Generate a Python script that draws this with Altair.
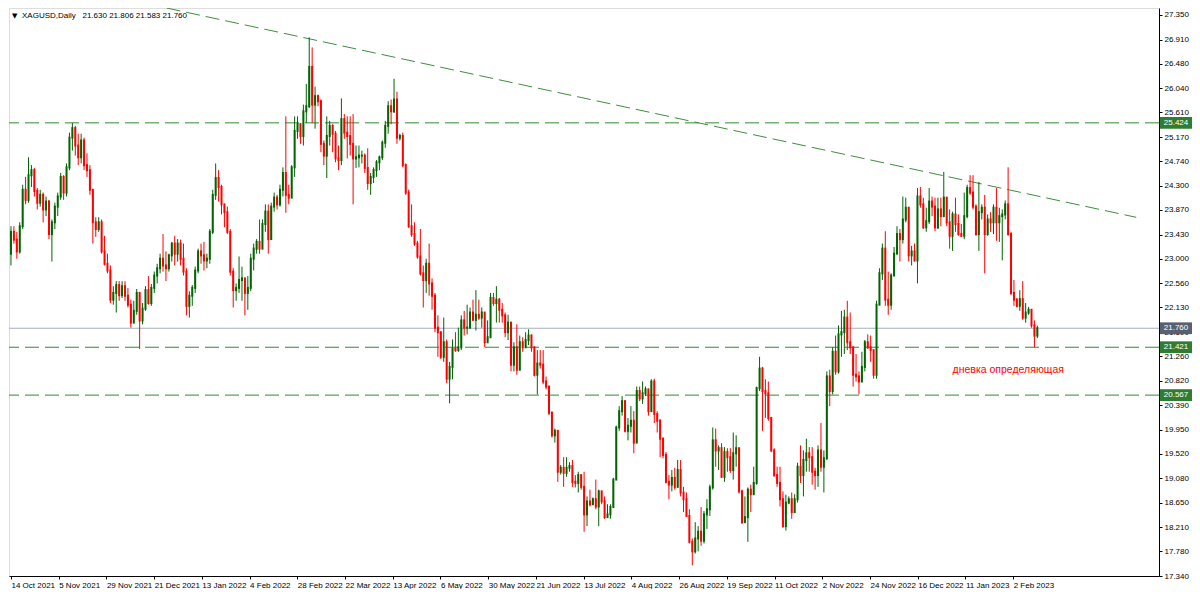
import json
import altair as alt
import pandas as pd

# ---------------- data ----------------
first_open = 23.09
closes = [
    23.48, 23.34, 23.13, 23.58, 24.23, 24.05, 24.49, 24.58, 24.21, 24.00,
    24.14, 23.88, 24.02, 23.44, 23.65, 23.93, 24.11, 24.46, 24.18, 24.63,
    25.16, 25.33, 25.02, 24.81, 25.11, 24.67, 24.58, 24.23, 23.65, 23.53,
    23.65, 23.13, 22.91, 22.79, 22.27, 22.39, 22.53, 22.35, 22.51, 22.34,
    22.18, 21.86, 22.07, 22.39, 21.90, 22.11, 22.44, 22.21, 22.48, 22.70,
    22.83, 23.00, 22.88, 22.83, 23.06, 23.27, 23.09, 23.27, 23.00, 22.77,
    22.16, 22.34, 22.48, 22.79, 23.13, 23.06, 22.97, 23.00, 23.48, 24.14,
    24.44, 24.28, 23.97, 23.83, 23.48, 22.77, 22.44, 22.48, 22.62, 22.65,
    22.39, 22.48, 23.00, 23.18, 23.30, 23.18, 23.62, 23.84, 23.35, 23.93,
    24.09, 23.97, 24.23, 24.53, 24.14, 24.09, 24.63, 25.28, 25.40, 25.19,
    25.63, 25.72, 26.42, 25.75, 25.90, 25.81, 25.05, 24.84, 25.19, 25.37,
    25.23, 24.79, 24.76, 25.49, 25.25, 25.19, 25.05, 24.79, 24.81, 24.84,
    24.84, 24.62, 24.35, 24.46, 24.58, 24.72, 24.81, 25.07, 25.37, 25.72,
    25.63, 25.84, 25.16, 25.19, 24.67, 24.18, 23.58, 23.44, 23.27, 23.04,
    22.74, 22.62, 22.91, 22.56, 22.34, 21.77, 21.69, 21.25, 21.51, 20.86,
    21.07, 21.39, 21.37, 21.42, 21.90, 21.77, 21.77, 22.04, 21.91, 22.00,
    21.95, 22.04, 21.51, 21.60, 22.30, 22.21, 22.27, 22.09, 21.99, 21.69,
    21.86, 21.11, 21.42, 21.02, 21.51, 21.42, 21.55, 21.63, 21.42, 20.93,
    21.13, 21.11, 20.81, 20.72, 20.25, 19.85, 19.93, 19.20, 19.27, 19.18,
    19.27, 19.30, 19.02, 19.00, 19.14, 18.93, 18.44, 18.67, 18.62, 18.71,
    18.58, 18.85, 18.67, 18.39, 18.44, 18.57, 19.06, 19.99, 20.28, 20.46,
    19.93, 20.02, 20.11, 19.72, 20.64, 20.51, 20.60, 20.67, 20.28, 20.81,
    20.23, 20.11, 19.79, 19.50, 19.02, 18.97, 19.09, 18.93, 19.23, 18.83,
    18.71, 18.41, 17.95, 17.78, 18.01, 18.13, 17.97, 18.44, 18.53, 18.92,
    19.76, 19.58, 19.62, 19.11, 19.55, 19.46, 19.23, 19.53, 19.62, 18.85,
    18.30, 18.39, 18.88, 18.80, 19.00, 20.69, 21.04, 20.64, 20.60, 20.16,
    19.58, 19.14, 19.00, 18.71, 18.23, 18.65, 18.71, 18.48, 18.71, 19.29,
    19.14, 19.41, 19.53, 19.46, 19.20, 19.14, 19.58, 19.29, 19.44, 20.90,
    20.64, 21.34, 20.99, 21.65, 21.69, 21.95, 21.51, 21.42, 20.93, 20.90,
    20.81, 21.07, 21.51, 21.42, 21.37, 20.93, 22.18, 22.74, 23.18, 22.27,
    22.18, 22.70, 23.09, 23.44, 23.35, 23.70, 23.91, 23.06, 23.13, 22.97,
    24.11, 23.97, 23.56, 23.67, 24.02, 23.93, 23.56, 23.88, 23.76, 24.09,
    23.65, 23.41, 23.79, 23.62, 23.44, 23.41, 23.76, 24.26, 24.18, 23.93,
    23.44, 23.83, 23.91, 23.44, 23.70, 23.65, 23.91, 23.65, 23.76, 23.79,
    23.97, 23.44, 22.39, 22.27, 22.16, 22.28, 21.95, 22.04, 22.09, 21.81,
    21.63, 21.76,
]
highs = [
    23.58, 23.58, 23.48, 23.65, 24.32, 24.46, 24.81, 24.67, 24.62, 24.26,
    24.23, 24.18, 24.11, 24.05, 23.70, 24.00, 24.18, 24.53, 24.49, 24.70,
    25.25, 25.42, 25.37, 25.23, 25.23, 25.16, 24.88, 24.67, 24.23, 23.74,
    23.74, 23.70, 23.41, 23.09, 22.88, 22.51, 22.60, 22.60, 22.60, 22.60,
    22.48, 22.27, 22.25, 22.46, 22.35, 22.21, 22.51, 22.69, 22.55, 22.77,
    22.91, 23.09, 23.44, 23.13, 23.09, 23.30, 23.41, 23.35, 23.34, 23.27,
    22.83, 22.42, 22.53, 22.86, 23.18, 23.27, 23.30, 23.09, 23.53, 24.23,
    24.70, 24.58, 24.32, 23.97, 23.93, 23.53, 22.83, 22.56, 23.04, 22.86,
    22.65, 22.69, 23.09, 23.27, 23.35, 23.70, 23.70, 23.97, 23.97, 24.00,
    24.18, 24.14, 24.32, 24.63, 25.54, 24.32, 24.67, 25.54, 25.54, 25.42,
    25.75, 26.12, 26.95, 26.77, 26.07, 25.93, 25.84, 25.11, 25.54, 25.46,
    25.40, 25.28, 25.02, 25.86, 25.58, 25.54, 25.54, 25.58, 25.02, 25.02,
    24.93, 24.88, 24.97, 24.53, 24.63, 24.76, 24.84, 25.11, 25.46, 25.81,
    25.84, 26.21, 25.98, 25.23, 25.25, 24.70, 24.23, 23.97, 23.65, 23.32,
    23.53, 22.88, 23.00, 23.27, 22.65, 22.39, 21.99, 21.69, 21.95, 21.56,
    21.16, 21.56, 21.69, 21.77, 21.99, 22.07, 22.18, 22.13, 22.27, 22.44,
    22.27, 22.13, 22.04, 21.90, 22.39, 22.39, 22.51, 22.30, 22.21, 22.04,
    22.00, 21.86, 21.51, 21.83, 21.63, 21.60, 21.69, 21.74, 21.65, 21.42,
    21.37, 21.37, 21.37, 20.90, 20.72, 20.28, 19.97, 19.93, 19.32, 19.46,
    19.46, 19.37, 19.41, 19.14, 19.20, 19.06, 19.20, 18.76, 18.88, 18.74,
    19.06, 18.88, 18.79, 18.76, 18.62, 18.62, 19.09, 20.02, 20.37, 20.55,
    20.46, 20.16, 20.37, 20.28, 20.72, 20.72, 20.81, 20.72, 20.58, 20.85,
    20.86, 20.28, 20.14, 19.81, 19.55, 19.14, 19.23, 19.27, 19.41, 19.41,
    18.93, 18.83, 18.53, 18.01, 18.30, 18.23, 18.57, 18.50, 18.71, 18.97,
    19.99, 19.97, 19.67, 19.71, 19.64, 19.62, 19.62, 19.90, 19.85, 19.62,
    18.88, 18.76, 18.92, 18.97, 19.29, 20.72, 21.25, 21.07, 20.85, 20.81,
    20.16, 19.62, 19.29, 19.29, 18.85, 18.79, 18.76, 18.83, 18.80, 19.36,
    19.67, 19.58, 19.79, 19.64, 19.64, 19.27, 19.67, 20.07, 19.58, 20.99,
    21.02, 21.42, 21.63, 21.81, 22.07, 22.09, 22.25, 22.04, 21.42, 21.30,
    20.99, 21.34, 21.55, 21.65, 21.63, 21.25, 22.25, 22.83, 23.27, 23.49,
    22.77, 22.74, 23.21, 23.58, 23.53, 24.11, 24.09, 23.91, 23.23, 23.27,
    24.26, 24.28, 24.09, 23.91, 24.26, 24.11, 24.09, 24.09, 24.09, 24.55,
    24.09, 23.88, 23.84, 24.09, 23.79, 23.62, 24.18, 24.32, 24.49, 24.49,
    23.97, 24.37, 23.97, 24.14, 23.79, 23.83, 23.97, 24.26, 23.91, 23.88,
    24.04, 24.63, 23.48, 22.62, 22.30, 22.44, 22.60, 22.21, 22.14, 22.07,
    21.90, 21.806,
]
lows = [
    22.88, 23.27, 23.00, 23.09, 23.53, 23.97, 24.00, 24.28, 24.11, 23.88,
    23.93, 23.65, 23.76, 23.35, 22.95, 23.53, 23.76, 24.05, 24.05, 24.11,
    24.58, 24.93, 24.84, 24.67, 24.70, 24.58, 24.46, 24.14, 23.27, 23.39,
    23.48, 23.09, 22.88, 22.74, 22.21, 22.18, 22.04, 22.25, 22.30, 22.25,
    22.13, 21.77, 21.86, 22.00, 21.39, 21.83, 22.07, 22.18, 22.16, 22.39,
    22.56, 22.74, 22.77, 22.60, 22.77, 22.95, 22.88, 22.95, 22.88, 22.70,
    21.99, 21.95, 22.16, 22.39, 22.74, 22.91, 22.79, 22.83, 22.91, 23.44,
    24.05, 24.02, 23.79, 23.56, 23.44, 22.70, 22.13, 22.25, 22.39, 22.25,
    21.99, 22.09, 22.42, 22.79, 23.09, 23.09, 23.18, 23.48, 23.09, 23.76,
    23.84, 23.88, 23.93, 24.11, 23.82, 23.97, 24.26, 24.46, 25.14, 25.05,
    25.02, 25.42, 25.69, 25.42, 25.32, 25.72, 24.90, 24.67, 24.44, 25.02,
    24.90, 24.72, 24.58, 24.67, 25.14, 24.79, 24.84, 23.97, 24.62, 24.63,
    24.70, 24.53, 24.23, 24.14, 24.35, 24.46, 24.58, 24.76, 24.98, 25.23,
    25.40, 25.60, 25.05, 25.11, 24.63, 24.14, 23.55, 23.39, 23.23, 23.00,
    22.70, 22.13, 22.39, 22.34, 22.09, 21.69, 21.25, 21.21, 21.16, 20.78,
    20.42, 20.85, 21.34, 21.34, 21.37, 21.63, 21.65, 21.77, 21.90, 21.72,
    21.91, 21.77, 21.42, 21.55, 21.77, 22.16, 21.86, 21.86, 21.86, 21.60,
    21.55, 20.99, 20.99, 20.93, 21.02, 21.34, 21.42, 21.46, 21.34, 20.90,
    20.58, 21.04, 20.76, 20.67, 20.21, 19.81, 19.72, 19.02, 19.15, 18.93,
    19.11, 19.20, 18.93, 18.92, 18.83, 18.88, 18.13, 18.23, 18.58, 18.65,
    18.53, 18.23, 18.62, 18.36, 18.39, 18.36, 18.57, 19.06, 19.93, 20.20,
    19.90, 19.76, 19.90, 19.53, 19.72, 20.46, 20.41, 20.55, 20.20, 20.28,
    20.07, 19.90, 19.46, 19.44, 18.99, 18.71, 18.85, 18.88, 19.06, 18.76,
    18.48, 18.41, 17.92, 17.53, 17.74, 17.78, 17.88, 17.92, 18.18, 18.41,
    18.88, 19.29, 19.23, 19.09, 19.02, 19.20, 19.18, 19.06, 19.29, 18.81,
    18.27, 18.30, 17.95, 18.48, 18.80, 18.97, 20.64, 19.93, 20.16, 20.11,
    19.55, 19.11, 18.93, 18.58, 18.20, 18.15, 18.62, 18.36, 18.60, 18.65,
    19.00, 18.76, 19.20, 19.20, 18.97, 18.88, 18.93, 19.20, 18.83, 19.41,
    20.37, 20.58, 20.93, 20.95, 21.25, 21.30, 21.37, 21.30, 20.72, 20.81,
    20.58, 20.81, 20.99, 21.39, 21.16, 20.86, 20.86, 22.21, 22.62, 22.16,
    22.00, 22.09, 22.70, 23.09, 22.95, 23.27, 23.65, 22.95, 22.88, 22.95,
    22.56, 23.91, 23.53, 23.48, 23.62, 23.76, 23.49, 23.53, 23.58, 23.76,
    23.58, 23.18, 23.14, 23.48, 23.41, 23.39, 23.35, 23.72, 24.14, 23.88,
    23.41, 23.14, 23.70, 22.74, 23.41, 23.48, 23.44, 23.32, 23.30, 22.97,
    23.70, 23.41, 22.35, 22.16, 22.13, 22.07, 21.91, 21.86, 22.00, 21.77,
    21.42, 21.583,
]

date_labels = ["14 Oct 2021", "5 Nov 2021", "29 Nov 2021", "21 Dec 2021", "13 Jan 2022",
               "4 Feb 2022", "28 Feb 2022", "22 Mar 2022", "13 Apr 2022", "6 May 2022",
               "30 May 2022", "21 Jun 2022", "13 Jul 2022", "4 Aug 2022", "26 Aug 2022",
               "19 Sep 2022", "11 Oct 2022", "2 Nov 2022", "24 Nov 2022", "16 Dec 2022",
               "11 Jan 2023", "2 Feb 2023"]
price_ticks = [27.350, 26.910, 26.480, 26.040, 25.610, 25.170, 24.740, 24.300, 23.870,
               23.430, 23.000, 22.560, 22.130, 21.690, 21.260, 20.820, 20.390, 19.950,
               19.520, 19.080, 18.650, 18.210, 17.780, 17.340]
levels = [25.424, 21.421, 20.567]
last_price = 21.760
trend_i = [53.2, 384.8]
trend_p = [27.473, 23.739]
header_text = "XAGUSD,Daily\u00a0\u00a0 21.630 21.806 21.583 21.760"
note_text = "дневка определяющая"
note_i = [322]
note_p = [21.02]

# ---------------- layout / style ----------------
W, H = 1150, 568
X_DOMAIN = [-0.673, 392.6]
Y_DOMAIN = [17.34, 27.473]
FONT = "Liberation Sans"
GREEN = "#006400"
RED = "#FF0000"
LEVEL_GREEN = "#2E8B2E"
TREND_GREEN = "#3E8E3E"
BOX_GREEN = "#2E7D32"
BOX_GRAY = "#596170"
PRICE_LINE = "#A3AEC0"
DATE_STEP = 16.32

opens = [first_open] + closes[:-1]
rows = []
for i, (o, h, l, c) in enumerate(zip(opens, highs, lows, closes)):
    d = "up" if c > o else ("down" if c < o else "flat")
    rows.append(dict(i=i, open=o, close=c, high=max(h, o, c), low=min(l, o, c), dir=d))
df = pd.DataFrame(rows)

tick_vals = [round(DATE_STEP * k, 2) for k in range(len(date_labels))]
label_expr = json.dumps(date_labels, ensure_ascii=False) + f"[round(datum.value/{DATE_STEP})]"

x_axis = alt.Axis(values=tick_vals, labelExpr=label_expr, orient="bottom", title=None,
                  grid=False, labelAlign="left", labelBaseline="top", labelPadding=2,
                  tickSize=3, labelFontSize=8, labelFont=FONT, labelColor="black",
                  domainColor="black", tickColor="black", labelOverlap=False, labelFlush=False)
y_axis = alt.Axis(values=price_ticks, format=".3f", orient="right", title=None, grid=False,
                  labelAlign="left", labelBaseline="middle", labelPadding=2, tickSize=3,
                  labelFontSize=8, labelFont=FONT, labelColor="black", domainColor="black",
                  tickColor="black", labelOverlap=False, labelFlush=False)

xs = alt.Scale(domain=X_DOMAIN, nice=False, zero=False)
ys = alt.Scale(domain=Y_DOMAIN, nice=False, zero=False)


def X(f):
    return alt.X(f"{f}:Q", scale=xs, axis=x_axis)


def Y(f):
    return alt.Y(f"{f}:Q", scale=ys, axis=y_axis)


candle_color = alt.Color("dir:N", scale=alt.Scale(domain=["up", "down", "flat"],
                                                  range=[GREEN, RED, GREEN]), legend=None)

base = alt.Chart(df)
wicks = base.mark_rule(strokeWidth=1).encode(x=X("i"), y=Y("low"), y2="high:Q", color=candle_color)
bodies = base.mark_rule(strokeWidth=2, strokeCap="square").encode(
    x=X("i"), y=Y("open"), y2="close:Q", color=candle_color)

level_rules = alt.Chart(pd.DataFrame({"price": levels})).mark_rule(
    color=LEVEL_GREEN, strokeWidth=1, strokeDash=[14, 6]).encode(y=Y("price"))
price_line = alt.Chart(pd.DataFrame({"price": [last_price]})).mark_rule(
    color=PRICE_LINE, strokeWidth=1).encode(y=Y("price"))
trend = alt.Chart(pd.DataFrame({"i": trend_i, "price": trend_p})).mark_line(
    color=TREND_GREEN, strokeWidth=1, strokeDash=[14, 6], clip=True).encode(x=X("i"), y=Y("price"))

box_df = pd.DataFrame({"price": levels + [last_price], "kind": ["level"] * len(levels) + ["last"]})
boxes = alt.Chart(box_df).transform_calculate(
    lo="datum.price - 0.105", hi="datum.price + 0.105").mark_rect().encode(
    x=alt.value(W + 1), x2=alt.value(W + 33), y=Y("lo"), y2="hi:Q",
    color=alt.condition("datum.kind == 'last'", alt.value(BOX_GRAY), alt.value(BOX_GREEN)))
box_text = alt.Chart(box_df).mark_text(color="white", fontSize=8, font=FONT, align="center",
                                       baseline="middle").encode(
    x=alt.value(W + 17), y=Y("price"), text=alt.Text("price:Q", format=".3f"))

tri = alt.Chart(pd.DataFrame({"t": ["▼"]})).mark_text(
    align="left", baseline="middle", fontSize=7, font="DejaVu Sans", color="black").encode(
    x=alt.value(3), y=alt.value(8), text="t:N")
hdr = alt.Chart(pd.DataFrame({"t": [header_text]})).mark_text(
    align="left", baseline="middle", fontSize=8, font=FONT, color="black").encode(
    x=alt.value(13), y=alt.value(8), text="t:N")
note = alt.Chart(pd.DataFrame({"i": note_i, "price": note_p, "t": [note_text]})).mark_text(
    align="left", baseline="middle", fontSize=10.5, font=FONT, color="red").encode(
    x=X("i"), y=Y("price"), text="t:N")

chart = alt.layer(level_rules, price_line, trend, wicks, bodies, boxes, box_text, tri, hdr, note).properties(
    width=W, height=H, padding={"left": 0, "top": 0, "right": 0, "bottom": 0}
).configure_view(stroke="black", strokeWidth=1).configure(background="white")

chart.save("out.html", embed_options={"renderer": "svg", "actions": False})
